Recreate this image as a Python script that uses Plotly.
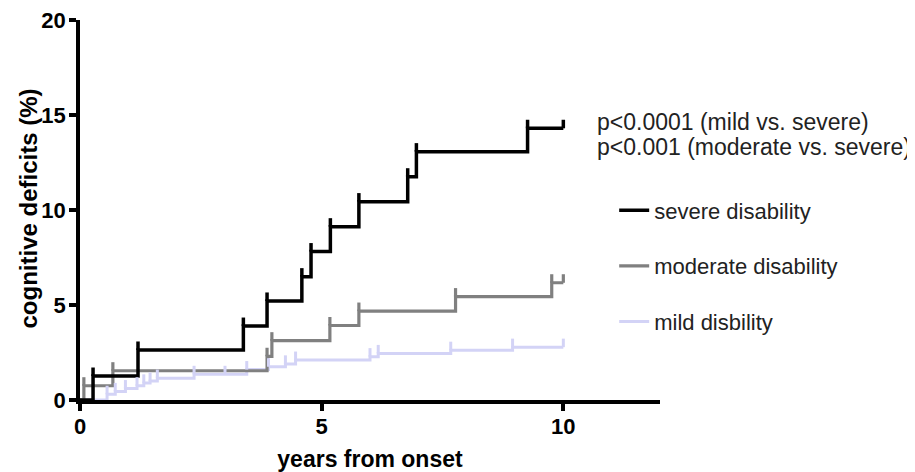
import numpy as np
import plotly.graph_objects as go

# cumulative incidence steps (years, %)
severe_t = [0.27, 1.20, 3.38, 3.87, 4.59, 4.78, 5.18, 5.77, 6.78, 6.96, 9.26]
severe_y = [1.26, 2.63, 3.89, 5.21, 6.49, 7.81, 9.12, 10.44, 11.75, 13.07, 14.3]
severe_cens = [0.27, 1.20, 3.38, 3.87, 4.59, 4.78, 5.18, 5.77, 6.78, 6.96, 9.26, 10.0]

moderate_t = [0.08, 0.68, 3.87, 3.97, 5.17, 5.77, 7.77, 9.76]
moderate_y = [0.75, 1.54, 2.3, 3.12, 3.92, 4.68, 5.44, 6.17]
moderate_cens = [0.08, 0.68, 3.87, 3.97, 5.17, 5.77, 7.77, 9.76, 10.0]

mild_t = [0.56, 0.73, 0.94, 1.18, 1.32, 1.45, 1.60, 2.36, 3.45, 3.90, 4.25, 4.46,
          6.00, 6.17, 7.67, 8.95]
mild_y = [0.30, 0.45, 0.60, 0.75, 0.90, 1.00, 1.15, 1.35, 1.60, 1.75, 1.90, 2.10,
          2.28, 2.45, 2.62, 2.78]
mild_cens = [0.56, 0.73, 0.94, 1.18, 1.32, 1.45, 1.60, 2.36, 3.00, 3.45, 3.90, 4.25,
             4.46, 6.00, 6.17, 7.67, 8.95, 10.0]

end_time = 10.0
names = ["severe disability", "moderate disability", "mild disbility"]
pvalue_lines = ["p<0.0001 (mild vs. severe)", "p<0.001 (moderate vs. severe)"]

FONT = "Liberation Sans, Arial, sans-serif"
TICK_H = 0.45


def step_xy(t, y):
    xs = [0.0] + list(t) + [end_time]
    ys = [0.0] + list(y) + [y[-1]]
    return xs, ys


def censor_xy(t, y, cens):
    t = np.asarray(t)
    y = np.asarray(y)
    xs, ys = [], []
    for c in cens:
        i = np.searchsorted(t, c, side="right")
        lev = y[i - 1] if i > 0 else 0.0
        xs += [c, c, None]
        ys += [lev, lev + TICK_H, None]
    return xs, ys


groups = [
    ("mild", mild_t, mild_y, mild_cens, "#d3d3f6", 3, names[2], 3),
    ("moderate", moderate_t, moderate_y, moderate_cens, "#808080", 3.2, names[1], 2),
    ("severe", severe_t, severe_y, severe_cens, "#000000", 3.5, names[0], 1),
]

fig = go.Figure()
for key, t, y, cens, col, w, label, rank in groups:
    xs, ys = step_xy(t, y)
    fig.add_trace(go.Scatter(x=xs, y=ys, mode="lines", line_shape="hv",
                             line=dict(color=col, width=w), name=label,
                             legendgroup=key, legendrank=rank, hoverinfo="skip"))
for key, t, y, cens, col, w, label, rank in groups:
    xs, ys = censor_xy(t, y, cens)
    fig.add_trace(go.Scatter(x=xs, y=ys, mode="lines",
                             line=dict(color=col, width=w), showlegend=False,
                             legendgroup=key, hoverinfo="skip"))

fig.add_annotation(x=0.888, y=0.7316, xref="paper", yref="paper", text=pvalue_lines[0],
                   showarrow=False, xanchor="left", yanchor="middle",
                   font=dict(size=23, color="#222222", family=FONT))
fig.add_annotation(x=0.888, y=0.6658, xref="paper", yref="paper", text=pvalue_lines[1],
                   showarrow=False, xanchor="left", yanchor="middle",
                   font=dict(size=23, color="#222222", family=FONT))
# y title placed by hand, it sits close to the tick labels
fig.add_annotation(x=-0.089, y=0.505, xref="paper", yref="paper",
                   text="cognitive deficits (%)", textangle=-90, showarrow=False,
                   xanchor="center", yanchor="middle",
                   font=dict(size=24, color="black", family=FONT, weight="bold"))

axis_common = dict(showline=True, linecolor="black", linewidth=3.5, ticks="outside",
                   ticklen=7, tickwidth=3.5, tickcolor="black", showgrid=False,
                   zeroline=False, automargin=False, ticklabeloverflow="allow",
                   tickfont=dict(size=22, family=FONT, color="black", weight="bold"))

# page body has an 8px margin, so the figure is drawn 8px smaller and offset
fig.update_layout(
    width=907, height=464,
    margin=dict(l=72, r=255, t=12, b=72),
    paper_bgcolor="white", plot_bgcolor="white",
    xaxis=dict(range=[0, 12], tickvals=[0, 5, 10], ticklabelstandoff=-3,
               title=dict(text="years from onset", standoff=16,
                          font=dict(size=23, family=FONT, color="black", weight="bold")),
               **axis_common),
    yaxis=dict(range=[0, 20], tickvals=[0, 5, 10, 15, 20], ticklabelstandoff=-1,
               **axis_common),
    legend=dict(x=0.921, y=0.554, xanchor="left", yanchor="top",
                font=dict(size=22, family=FONT, color="#222222"),
                tracegroupgap=24, itemwidth=30, bgcolor="rgba(0,0,0,0)"),
    showlegend=True,
)

fig.write_html("out.html")
